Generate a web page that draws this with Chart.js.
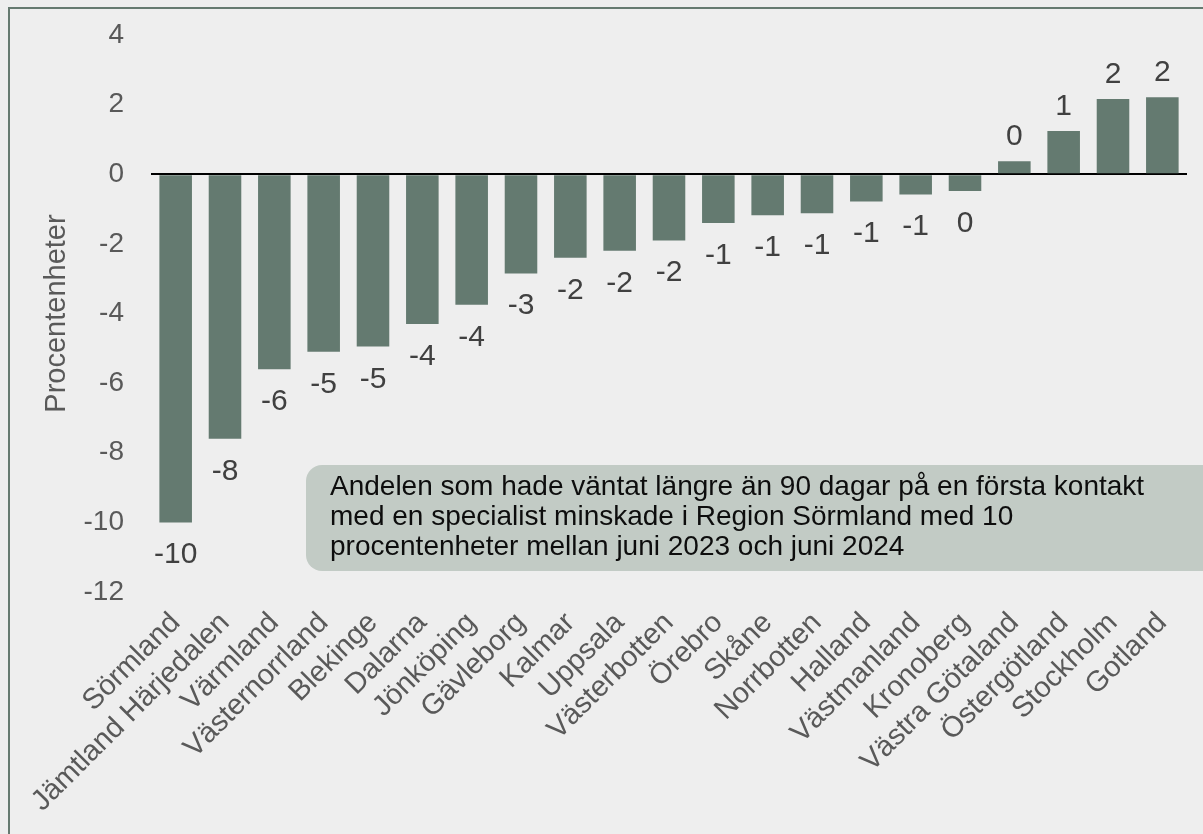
<!DOCTYPE html>
<html>
<head>
<meta charset="utf-8">
<script src="https://cdn.jsdelivr.net/npm/chart.js@4.4.1/dist/chart.umd.min.js"></script>
<style>
    html, body { margin: 0; padding: 0; background: #eeeeee; overflow: hidden; }
    #frame { position: absolute; left: 8px; top: 7px; width: 1300px; height: 900px; border: 2px solid #667a70; box-sizing: border-box; }
    #wrap { position: absolute; left: 0; top: 0; width: 1203px; height: 834px; }
</style>
</head>
<body>
<div id="frame"></div>
<div id="wrap"><canvas id="chart"></canvas></div>
<script>
// ============= Data =============
const regions = ['Sörmland', 'Jämtland Härjedalen', 'Värmland', 'Västernorrland', 'Blekinge', 'Dalarna',
    'Jönköping', 'Gävleborg', 'Kalmar', 'Uppsala', 'Västerbotten', 'Örebro', 'Skåne', 'Norrbotten',
    'Halland', 'Västmanland', 'Kronoberg', 'Västra Götaland', 'Östergötland', 'Stockholm', 'Gotland'];
const change = [-10.0, -7.6, -5.6, -5.1, -4.95, -4.3, -3.75, -2.85, -2.4, -2.2, -1.9, -1.4, -1.18,
    -1.12, -0.78, -0.58, -0.48, 0.37, 1.24, 2.16, 2.21];
const yTicks = [-12, -10, -8, -6, -4, -2, 0, 2, 4];
const noteLines = [
    'Andelen som hade väntat längre än 90 dagar på en första kontakt',
    'med en specialist minskade i Region Sörmland med 10',
    'procentenheter mellan juni 2023 och juni 2024'
];

const FONT = 'Liberation Sans, Arial, sans-serif';

// Value labels outside bar ends
const valueLabels = {
    id: 'valueLabels',
    afterDatasetsDraw(chart) {
        const ctx = chart.ctx;
        const meta = chart.getDatasetMeta(0);
        ctx.save();
        ctx.font = '30px ' + FONT;
        ctx.fillStyle = '#404040';
        ctx.textAlign = 'center';
        ctx.textBaseline = 'alphabetic';
        meta.data.forEach((bar, i) => {
            const v = change[i];
            const r = Math.round(v);
            const txt = String(r === 0 ? 0 : r);
            const y = v >= 0 ? bar.y - 16 : bar.y + 41;
            ctx.fillText(txt, bar.x, y);
        });
        ctx.restore();
    }
};

// Note box
const noteBox = {
    id: 'noteBox',
    afterDraw(chart) {
        const ctx = chart.ctx;
        ctx.save();
        ctx.fillStyle = '#c2cbc5';
        ctx.beginPath();
        ctx.roundRect(306, 465, 920, 106, 16);
        ctx.fill();
        ctx.font = '28px ' + FONT;
        ctx.fillStyle = '#0d0d0d';
        ctx.textAlign = 'left';
        noteLines.forEach((line, i) => ctx.fillText(line, 330, 495 + i * 30));
        ctx.restore();
    }
};

new Chart(document.getElementById('chart'), {
    type: 'bar',
    data: {
        labels: regions,
        datasets: [{
            data: change,
            backgroundColor: '#647a70',
            barPercentage: 0.66,
            categoryPercentage: 1
        }]
    },
    options: {
        responsive: true,
        maintainAspectRatio: false,
        animation: false,
        layout: { padding: { left: 0, right: 16, top: 35, bottom: 0 } },
        plugins: { legend: { display: false }, tooltip: { enabled: false } },
        scales: {
            x: {
                grid: { display: false, drawTicks: false },
                border: { display: false },
                ticks: { color: '#595959', font: { size: 29, family: FONT }, minRotation: 45, maxRotation: 45, padding: 14, autoSkip: false },
                afterFit: s => { s.height = 242; }
            },
            y: {
                min: -12, max: 4,
                afterBuildTicks: s => { s.ticks = yTicks.map(v => ({ value: v })); },
                grid: {
                    drawTicks: true,
                    tickLength: 27,
                    tickColor: 'rgba(0,0,0,0)',
                    color: c => c.tick && c.tick.value === 0 ? '#000000' : 'rgba(0,0,0,0)',
                    lineWidth: 2
                },
                border: { display: false },
                ticks: { color: '#595959', font: { size: 28, family: FONT }, padding: 0 },
                title: { display: true, text: 'Procentenheter', color: '#595959', font: { size: 29, family: FONT }, padding: { top: 40, bottom: 0 } },
                afterFit: s => { s.width = 151; }
            }
        }
    },
    plugins: [valueLabels, noteBox]
});
</script>
</body>
</html>
